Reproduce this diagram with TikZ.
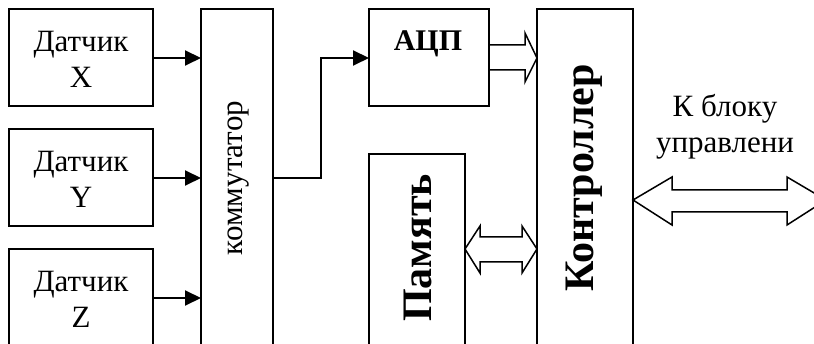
\documentclass[tikz,border=0pt]{standalone}
\usepackage{fontspec}
\setmainfont{Liberation Serif}
\usetikzlibrary{arrows.meta}
\begin{document}
\begin{tikzpicture}[x=1pt,y=-1pt,
  blk/.style={draw,line width=1.5pt},
  sig/.style={line width=2pt,-{Triangle[length=16pt,width=15pt]}},
  hol/.style={line width=1.5pt,line join=miter},
  reg/.style={font=\fontsize{31}{36}\selectfont},
  bld/.style={font=\fontsize{42}{46}\selectfont\bfseries}]
\useasboundingbox (0,0) rectangle (814,344);
\begin{scope}
\clip (0,0) rectangle (814,344);
% sensors
\draw[blk] (9,9) rectangle (153,106);
\draw[blk] (9,129) rectangle (153,226);
\draw[blk] (9,249) rectangle (153,360);
\node[reg,align=center] (dx) at (81,59) {Датчик\\X};
\node[reg,align=center] (dy) at (81,179) {Датчик\\Y};
\node[reg,align=center] (dz) at (81,299) {Датчик\\Z};
% commutator
\draw[blk] (201,9) rectangle (273,360);
\node[reg,rotate=90] (km) at (239,178) {коммутатор};
% ADC
\draw[blk] (369,9) rectangle (489,106);
\node[font=\fontsize{30}{34}\selectfont\bfseries] (adc) at (428,44) {АЦП};
% memory
\draw[blk] (369,154) rectangle (465,360);
\node[bld,rotate=90] (mem) at (418,248) {Память};
% controller
\draw[blk] (537,9) rectangle (633,360);
\node[bld,rotate=90] (ctl) at (584,178) {Контроллер};
% signal arrows
\coordinate (s1) at (153,58); \coordinate (e1) at (201,58);
\coordinate (s2) at (153,178); \coordinate (e2) at (201,178);
\coordinate (s3) at (153,298); \coordinate (e3) at (201,298);
\draw[sig] (s1) -- (e1);
\draw[sig] (s2) -- (e2);
\draw[sig] (s3) -- (e3);
\coordinate (ko) at (273,178); \coordinate (ai) at (369,58);
\draw[sig] (ko) -| (321,58) -- (ai);
% hollow arrows
\draw[hol] (489,45) -- (525,45) -- (525,33) -- (537,58) -- (525,82) -- (525,70) -- (489,70);
\draw[hol] (480,237) -- (522,237) -- (522,226) -- (537,249) -- (522,273) -- (522,262) -- (480,262) -- (480,273) -- (465,249) -- (480,226) -- cycle;
\draw[hol] (672,190) -- (787,190) -- (787,177) -- (826,200) -- (787,225) -- (787,212) -- (672,212) -- (672,225) -- (633,200) -- (672,177) -- cycle;
\node[reg,align=center] (lbl) at (725,127) {К блоку\\управлени};
\end{scope}
\end{tikzpicture}
\end{document}
